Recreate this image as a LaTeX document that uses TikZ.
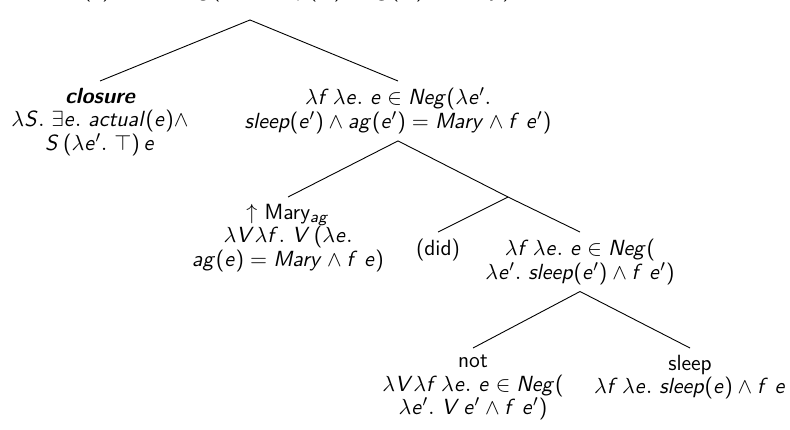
\documentclass[tikz,border=0pt]{standalone}
\DeclareSymbolFont{sfit}{OT1}{cmss}{m}{sl}
\DeclareSymbolFont{operators}{OT1}{cmss}{m}{n}
\newcommand\sfl[1]{\DeclareMathSymbol{#1}{\mathalpha}{sfit}{`#1}}
\sfl a\sfl b\sfl c\sfl d\sfl e\sfl f\sfl g\sfl h\sfl i\sfl j\sfl k\sfl l\sfl m
\sfl n\sfl o\sfl p\sfl q\sfl r\sfl s\sfl t\sfl u\sfl v\sfl w\sfl x\sfl y\sfl z
\sfl A\sfl B\sfl C\sfl D\sfl E\sfl F\sfl G\sfl H\sfl I\sfl J\sfl K\sfl L\sfl M
\sfl N\sfl O\sfl P\sfl Q\sfl R\sfl S\sfl T\sfl U\sfl V\sfl W\sfl X\sfl Y\sfl Z
\begin{document}
\begin{tikzpicture}[x=0.5pt,y=-0.5pt,
  lbl/.style={align=center,font=\sffamily\fontsize{11}{11.8}\selectfont,inner sep=3.3pt},
  edge/.style={draw=black,line width=0.45pt}]
\useasboundingbox (0,0) rectangle (790,429);
\node[lbl,anchor=base,inner ysep=8.8pt] (root) at (250,-3.5)
  {$\exists e.\ actual(e)\wedge e\in Neg(\lambda e'.\ sleep(e')\wedge ag(e') = Mary)$};
\node[lbl,anchor=north] (closure) at (100,81)
  {{\bfseries\itshape closure}\\ $\lambda S.\ \exists e.\ actual(e)\wedge$\\ $S\,(\lambda e'.\ \top)\,e$};
\node[lbl,anchor=north] (rc) at (398,81)
  {$\lambda f\,\lambda e.\ e\in Neg(\lambda e'.$\\ $sleep(e')\wedge ag(e') = Mary\wedge f\;e')$};
\node[lbl,anchor=north] (mary) at (288,197)
  {$\uparrow$ Mary$_{ag}$\\ $\lambda V\lambda f.\ V\,(\lambda e.$\\ $ag(e) = Mary\wedge f\;e)$};
\coordinate (mid) at (508,197);
\node[lbl,anchor=north] (did) at (438,232) {(did)};
\node[lbl,anchor=north] (neg) at (580,232)
  {$\lambda f\,\lambda e.\ e\in Neg($\\ $\lambda e'.\ sleep(e')\wedge f\;e')$};
\node[lbl,anchor=north] (not) at (473,348)
  {not\\ $\lambda V\lambda f\,\lambda e.\ e\in Neg($\\ $\lambda e'.\ V\,e'\wedge f\;e')$};
\node[lbl,anchor=north] (sleep) at (690,348)
  {sleep\\ $\lambda f\,\lambda e.\ sleep(e)\wedge f\;e$};
\draw[edge] (closure.north) -- (root.south) -- (rc.north);
\draw[edge] (mary.north) -- (rc.south) -- (mid);
\draw[edge] (did.north) -- (mid) -- (neg.north);
\draw[edge] (not.north) -- (neg.south) -- (sleep.north);
\end{tikzpicture}
\end{document}
